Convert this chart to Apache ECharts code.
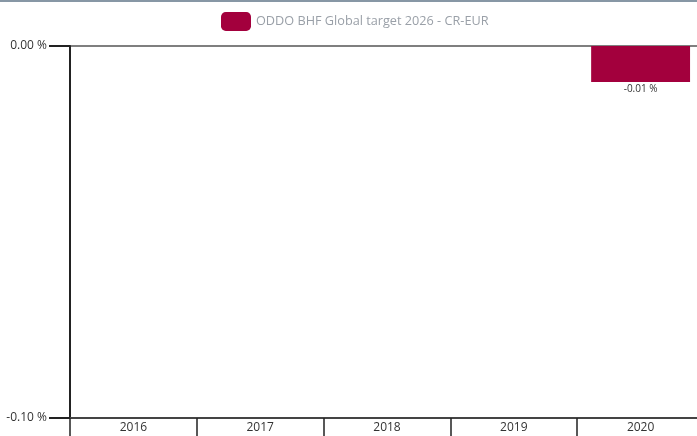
<!DOCTYPE html>
<html>
<head>
<meta charset="utf-8">
<script src="https://cdn.jsdelivr.net/npm/echarts@6/dist/echarts.min.js"></script>
<style>
html,body{margin:0;padding:0;background:#fff;overflow:hidden;}
#chart{width:710px;height:436px;}
</style>
</head>
<body>
<div id="chart"></div>
<script>
// data
var years = ['2016', '2017', '2018', '2019', '2020'];
var perf = [null, null, null, null, -0.0097];
var serieName = 'ODDO BHF Global target 2026 - CR-EUR';
var yTicks = [-0.1, 0];

// le graphique deborde un peu a droite de la fenetre (697px)
var myChart = echarts.init(document.getElementById('chart'));

function pct(v){
	return v.toFixed(2) + ' %';
}

myChart.setOption({
	animation: false,
	textStyle: {fontFamily: 'Open Sans'},
	graphic: [{
		type: 'rect',
		shape: {x: 0, y: 0, width: 710, height: 2},
		style: {fill: '#8797a5'}
	}],
	legend: {
		left: 216,
		top: 7,
		itemWidth: 30,
		itemHeight: 19,
		itemGap: 8,
		icon: 'roundRect',
		textStyle: {color: '#9aa0a8', fontSize: 12.7, fontFamily: 'Open Sans'},
		data: [serieName]
	},
	grid: {left: 70, right: 6, top: 46, bottom: 18, containLabel: false},
	xAxis: {
		type: 'category',
		data: years,
		position: 'bottom',
		axisLine: {onZero: false, lineStyle: {color: '#444', width: 2}},
		axisTick: {show: true, length: 18, alignWithLabel: false, lineStyle: {color: '#222', width: 1.5}},
		axisLabel: {color: '#333', fontSize: 12, margin: 4}
	},
	yAxis: {
		type: 'value',
		min: yTicks[0],
		max: yTicks[1],
		interval: 0.1,
		axisLine: {show: true, lineStyle: {color: '#222', width: 2}},
		axisTick: {show: true, length: 21, lineStyle: {color: '#222', width: 2}},
		axisLabel: {color: '#333', fontSize: 12, margin: 23, formatter: pct},
		splitLine: {show: true, lineStyle: {color: '#555', width: 1.5}}
	},
	series: [{
		name: serieName,
		type: 'bar',
		data: perf,
		barWidth: '78%',
		itemStyle: {color: '#a3003d'},
		label: {
			show: true,
			position: 'bottom',
			distance: 2,
			color: '#333',
			fontSize: 10,
			formatter: function(p){ return pct(p.value); }
		}
	}]
});
</script>
</body>
</html>
